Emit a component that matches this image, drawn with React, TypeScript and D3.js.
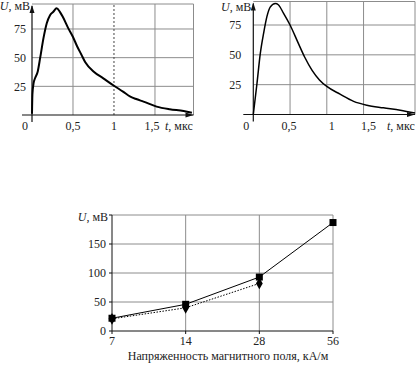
import * as d3 from 'd3';

// top-left: measured pulse (noisy oscillogram)
const measT = [0, 0.005, 0.02, 0.037, 0.07, 0.1, 0.14, 0.18, 0.22, 0.26, 0.3, 0.34, 0.38, 0.44, 0.5, 0.55, 0.6, 0.65, 0.75, 0.87, 1.0, 1.11, 1.2, 1.28, 1.36, 1.52, 1.68, 1.85, 1.95];
const measU = [1, 18, 28, 32, 38, 50, 67, 80, 87, 90, 93, 90, 85, 76, 68, 60, 53, 46, 38, 32, 25.5, 20.4, 16, 13.7, 11.7, 7.3, 5, 3.5, 2];

// top-right: calculated pulse
const calcT = [0, 0.05, 0.095, 0.14, 0.185, 0.23, 0.3, 0.34, 0.41, 0.5, 0.61, 0.7, 0.8, 0.9, 1.0, 1.18, 1.365, 1.545, 1.77, 2.0, 2.2];
const calcU = [0, 26, 51, 68, 82, 90, 93, 92, 85, 75, 60, 48, 37, 29, 23.5, 17, 11, 7.8, 5.6, 3.6, 1.2];

const pulseYTicks = [25, 50, 75];
const pulseXTicks = [0.5, 1, 1.5];
const pulseXLabels = ['0,5', '1', '1,5'];

// bottom: amplitude vs field strength
const fieldCats = ['7', '14', '28', '56'];
const ampSquares = [22, 46, 93, 187];
const ampDiamonds = [21, 40, 82];
const ampYTicks = [0, 50, 100, 150];

const FONT = 'Liberation Serif';
const grid = '#8c8c8c';
const ink = '#111';

// every text gets the font directly
function T(props: any) {
  return <text fontFamily={FONT} fontSize={12} fill="#222" {...props} />;
}

type PulseProps = {
  t: number[];
  u: number[];
  x0: number; x1: number; tMax: number;
  y0: number; y1: number; uMax: number;
  dashedOne: boolean;
  lineWidth: number;
  yLabelDx: number;
  xLabelDx: number[];
  unitX: number;
  titleY: number;
};

function Pulse({ t, u, x0, x1, tMax, y0, y1, uMax, dashedOne, lineWidth, yLabelDx, xLabelDx, unitX, titleY }: PulseProps) {
  const x = d3.scaleLinear().domain([0, tMax]).range([x0, x1]);
  const y = d3.scaleLinear().domain([0, uMax]).range([y0, y1]);
  const pts = t.map((d, i) => [d, u[i]] as [number, number]);
  const line = d3.line<[number, number]>()
    .x((d) => x(d[0]))
    .y((d) => y(d[1]))
    .curve(d3.curveMonotoneX);

  return (
    <g>
      {/* grid */}
      {pulseYTicks.map((v) => (
        <line key={'h' + v} x1={x0} x2={x1} y1={y(v)} y2={y(v)} stroke={grid} strokeWidth={1} />
      ))}
      {pulseXTicks.map((v) => (
        <line key={'v' + v} x1={x(v)} x2={x(v)} y1={y0} y2={y1}
          stroke={v === 1 && dashedOne ? '#444' : grid}
          strokeDasharray={v === 1 && dashedOne ? '2,2' : undefined}
          strokeWidth={1} />
      ))}
      <line x1={x0} x2={x1} y1={y1} y2={y1} stroke={grid} />
      <line x1={x1} x2={x1} y1={y1} y2={y0} stroke={grid} />

      {/* axes with arrows */}
      <line x1={x0 - 10} x2={x1} y1={y0} y2={y0} stroke={ink} strokeWidth={1.2} />
      <line x1={x0} x2={x0} y1={y0 + 7} y2={y1 + 2} stroke={ink} strokeWidth={1.2} />
      <path d={`M${x0},${y1 + 1}L${x0 - 2.5},${y1 + 9}L${x0 + 2.5},${y1 + 9}Z`} fill={ink} />
      <path d={`M${x1},${y0}L${x1 - 8},${y0 - 2.5}L${x1 - 8},${y0 + 2.5}Z`} fill={ink} />

      {/* curve */}
      <path d={line(pts) ?? ''} fill="none" stroke="#000" strokeWidth={lineWidth} strokeLinejoin="round" />

      {/* labels */}
      {pulseYTicks.map((v) => (
        <T key={'yl' + v} x={x0 + yLabelDx} y={y(v)} dy="0.35em" textAnchor="end">{v}</T>
      ))}
      <T x={x0 - 7} y={y0 + 15} textAnchor="middle">0</T>
      {pulseXTicks.map((v, i) => (
        <T key={'xl' + v} x={x(v) + xLabelDx[i]} y={y0 + 15} textAnchor="middle">{pulseXLabels[i]}</T>
      ))}
      <T x={unitX} y={y0 + 15}><tspan fontStyle="italic">t</tspan>, мкс</T>
      <T x={x0 - 2} y={titleY} textAnchor="end"><tspan fontStyle="italic">U</tspan>, мВ</T>
    </g>
  );
}

function Amplitude() {
  const x = d3.scalePoint<string>().domain(fieldCats).range([112, 333]);
  const y = d3.scaleLinear().domain([0, 200]).range([331, 215]);
  const sq = fieldCats.map((c, i) => [x(c) as number, y(ampSquares[i])] as [number, number]);
  const di = ampDiamonds.map((v, i) => [x(fieldCats[i]) as number, y(v)] as [number, number]);
  const line = d3.line();
  const diamond = d3.symbol().type(d3.symbolDiamond).size(40)();

  return (
    <g>
      {ampYTicks.filter((v) => v > 0).map((v) => (
        <line key={'h' + v} x1={112} x2={333} y1={y(v)} y2={y(v)} stroke={grid} />
      ))}
      {fieldCats.slice(1, 3).map((c) => (
        <line key={'v' + c} x1={x(c)} x2={x(c)} y1={y(0)} y2={y(200)} stroke={grid} />
      ))}
      <line x1={112} x2={333} y1={y(200)} y2={y(200)} stroke={grid} />
      <line x1={333} x2={333} y1={y(200)} y2={y(0)} stroke={grid} />

      <line x1={112} x2={112} y1={y(0)} y2={y(200)} stroke={ink} />
      <line x1={112} x2={333} y1={y(0)} y2={y(0)} stroke={ink} />
      {[...ampYTicks, 200].map((v) => (
        <line key={'t' + v} x1={109} x2={112} y1={y(v)} y2={y(v)} stroke={ink} />
      ))}
      {fieldCats.map((c) => (
        <line key={'xt' + c} x1={x(c)} x2={x(c)} y1={y(0)} y2={y(0) + 3} stroke={ink} />
      ))}

      <path d={line(sq) ?? ''} fill="none" stroke="#000" strokeWidth={1} />
      <path d={line(di) ?? ''} fill="none" stroke="#000" strokeWidth={1} strokeDasharray="1.5,1.5" />
      {di.map((p, i) => (
        <path key={'d' + i} d={diamond ?? ''} transform={`translate(${p[0]},${p[1]})`} fill="#000" />
      ))}
      {sq.map((p, i) => (
        <rect key={'s' + i} x={p[0] - 3.5} y={p[1] - 3.5} width={7} height={7} fill="#000" />
      ))}

      {ampYTicks.map((v) => (
        <T key={'yl' + v} x={106} y={y(v)} dy="0.35em" textAnchor="end">{v}</T>
      ))}
      {fieldCats.map((c) => (
        <T key={'xl' + c} x={x(c)} y={y(0) + 14} textAnchor="middle">{c}</T>
      ))}
      <T x={108} y={y(200) + 6} textAnchor="end"><tspan fontStyle="italic">U</tspan>, мВ</T>
      <T x={228} y={360} textAnchor="middle">Напряженность магнитного поля, кА/м</T>
    </g>
  );
}

export default function App() {
  return (
    <svg width={416} height={366} style={{ position: 'absolute', left: 0, top: 0, background: '#fff' }}>
      <rect width={416} height={366} fill="#fff" />
      <Pulse t={measT} u={measU} x0={32} x1={193.5} tMax={1.97} y0={115} y1={4} uMax={96.8}
        dashedOne={true} lineWidth={2} yLabelDx={-6} xLabelDx={[0, 0, -3]} unitX={165} titleY={10} />
      <Pulse t={calcT} u={calcU} x0={253.3} x1={415} tMax={2.2} y0={114.5} y1={1.5} uMax={94.7}
        dashedOne={false} lineWidth={1.5} yLabelDx={-12} xLabelDx={[-1, 5, 5]} unitX={387} titleY={11} />
      <Amplitude />
    </svg>
  );
}
